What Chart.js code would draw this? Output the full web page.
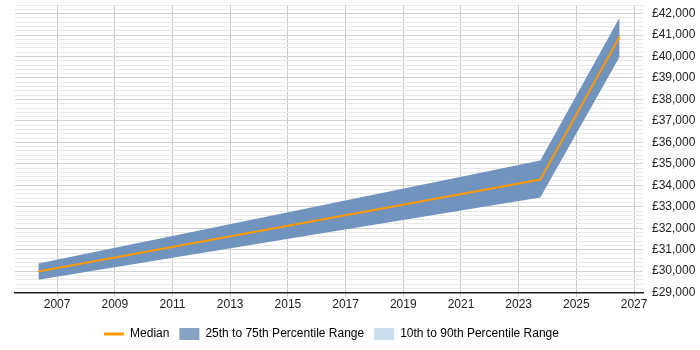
<!DOCTYPE html>
<html>
<head>
<meta charset="utf-8">
<script src="https://cdn.jsdelivr.net/npm/chart.js@4/dist/chart.umd.min.js"></script>
<style>
  html, body { margin: 0; padding: 0; background: #fff; }
  #wrap { width: 700px; height: 350px; }
</style>
</head>
<body>
<div id="wrap"><canvas id="salaryChart"></canvas></div>
<script>
// data (x = decimal year)
const years = [2006.35, 2023.75, 2026.5];
const median = [29980, 34270, 40920];
const p25 = [29600, 33430, 39990];
const p75 = [30360, 35160, 41820];
const p10 = [];
const p90 = [];
const xTicks = [2007, 2009, 2011, 2013, 2015, 2017, 2019, 2021, 2023, 2025, 2027];
const legendNames = ['Median', '25th to 75th Percentile Range', '10th to 90th Percentile Range'];

const toPoints = arr => arr.map((v, i) => ({ x: years[i], y: v }));

// legend sits a bit left of centre in the original
const shiftLegend = {
  id: 'shiftLegend',
  afterLayout(chart) {
    const lg = chart.legend;
    if (lg) { lg.left -= 26; lg.right -= 26; }
  }
};

const ctx = document.getElementById('salaryChart').getContext('2d');
new Chart(ctx, {
  type: 'line',
  plugins: [shiftLegend],
  data: {
    datasets: [
      {
        label: legendNames[0],
        data: toPoints(median),
        borderColor: '#ff9900',
        borderWidth: 2,
        pointRadius: 0,
        fill: false
      },
      {
        label: legendNames[1],
        data: toPoints(p75),
        borderWidth: 0,
        borderColor: 'rgba(0,0,0,0)',
        backgroundColor: 'rgb(112,148,190)',
        pointRadius: 0,
        fill: '+1'
      },
      {
        label: 'p25',
        data: toPoints(p25),
        borderWidth: 0,
        borderColor: 'rgba(0,0,0,0)',
        pointRadius: 0,
        fill: false
      },
      {
        label: legendNames[2],
        data: p90,
        backgroundColor: 'rgb(204,221,238)',
        pointRadius: 0
      },
      {
        label: 'p10',
        data: p10,
        pointRadius: 0
      }
    ]
  },
  options: {
    responsive: true,
    maintainAspectRatio: false,
    animation: false,
    layout: { padding: { left: 15, top: 5, right: 0, bottom: 0 } },
    plugins: {
      tooltip: { enabled: false },
      legend: {
        position: 'bottom',
        labels: {
          usePointStyle: true,
          pointStyleWidth: 20,
          boxHeight: 12,
          padding: 10,
          color: '#222',
          font: { family: 'Liberation Sans, Arial', size: 12 },
          generateLabels: () => [
            { text: legendNames[0], pointStyle: 'line', strokeStyle: '#ff9900', lineWidth: 3, fillStyle: '#ff9900', datasetIndex: 0 },
            { text: legendNames[1], pointStyle: 'rect', fillStyle: 'rgb(134,163,196)', strokeStyle: 'rgb(134,163,196)', lineWidth: 0, datasetIndex: 1 },
            { text: legendNames[2], pointStyle: 'rect', fillStyle: 'rgb(204,221,238)', strokeStyle: 'rgb(204,221,238)', lineWidth: 0, datasetIndex: 3 }
          ]
        }
      }
    },
    scales: {
      x: {
        type: 'linear',
        min: 2005.54,
        max: 2027.31,
        afterBuildTicks: scale => { scale.ticks = xTicks.map(v => ({ value: v })); },
        afterFit: scale => { scale.height += 5; },
        grid: {
          color: '#c8c8c8',
          tickLength: 4
        },
        border: { color: '#222', width: 1.5 },
        ticks: {
          autoSkip: false,
          maxRotation: 0,
          padding: 1,
          color: '#222',
          font: { family: 'Liberation Sans, Arial', size: 12 },
          callback: v => String(v)
        }
      },
      y: {
        position: 'right',
        min: 29000,
        max: 42400,
        afterFit: scale => { scale.width = 57; scale.paddingTop = 0; },
        grid: {
          drawTicks: false,
          color: c => (c.tick && c.tick.value % 1000 === 0) ? '#d2d2d2' : '#e8e8e8'
        },
        border: { display: false },
        ticks: {
          stepSize: 200,
          autoSkip: false,
          padding: 9,
          color: '#222',
          font: { family: 'Liberation Sans, Arial', size: 12 },
          callback: v => v % 1000 === 0 ? '£' + v.toLocaleString('en-GB') : ''
        }
      }
    }
  }
});
</script>
</body>
</html>
